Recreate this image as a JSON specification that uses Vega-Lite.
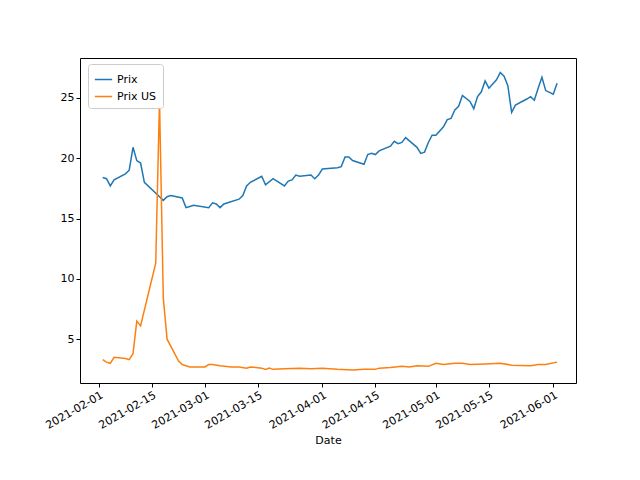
{
"$schema":"https://vega.github.io/schema/vega-lite/v6.json",
"width":496,"height":325,
"autosize":{"type":"none"},
"padding":{"left":80,"top":58,"right":64,"bottom":97},
"config":{"font":"DejaVu Sans","view":{"stroke":"black","strokeWidth":1},
"axis":{"grid":false,"domain":false,"tickColor":"black","labelColor":"black","labelFontSize":11,"tickSize":4,"titleFontWeight":"normal","titleFontSize":11,"titleColor":"black","labelOverlap":false}},
"datasets":{"p":[
{"d":"2021-02-02","v":18.4},{"d":"2021-02-03","v":18.3},{"d":"2021-02-04","v":17.7},{"d":"2021-02-05","v":18.2},{"d":"2021-02-08","v":18.7},{"d":"2021-02-09","v":19.0},{"d":"2021-02-10","v":20.9},{"d":"2021-02-11","v":19.8},{"d":"2021-02-12","v":19.6},{"d":"2021-02-13","v":18.0},{"d":"2021-02-17","v":16.8},{"d":"2021-02-18","v":16.5},{"d":"2021-02-19","v":16.8},{"d":"2021-02-20","v":16.9},{"d":"2021-02-23","v":16.7},{"d":"2021-02-24","v":15.9},{"d":"2021-02-25","v":16.0},{"d":"2021-02-26","v":16.1},{"d":"2021-03-02","v":15.9},{"d":"2021-03-03","v":16.3},{"d":"2021-03-04","v":16.2},{"d":"2021-03-05","v":15.9},{"d":"2021-03-06","v":16.2},{"d":"2021-03-10","v":16.6},{"d":"2021-03-11","v":16.9},{"d":"2021-03-12","v":17.7},{"d":"2021-03-13","v":18.0},{"d":"2021-03-16","v":18.5},{"d":"2021-03-17","v":17.8},{"d":"2021-03-19","v":18.3},{"d":"2021-03-22","v":17.7},{"d":"2021-03-23","v":18.1},{"d":"2021-03-24","v":18.2},{"d":"2021-03-25","v":18.6},{"d":"2021-03-26","v":18.5},{"d":"2021-03-29","v":18.6},{"d":"2021-03-30","v":18.3},{"d":"2021-03-31","v":18.6},{"d":"2021-04-01","v":19.1},{"d":"2021-04-05","v":19.2},{"d":"2021-04-06","v":19.3},{"d":"2021-04-07","v":20.1},{"d":"2021-04-08","v":20.1},{"d":"2021-04-09","v":19.8},{"d":"2021-04-12","v":19.5},{"d":"2021-04-13","v":20.3},{"d":"2021-04-14","v":20.4},{"d":"2021-04-15","v":20.3},{"d":"2021-04-16","v":20.6},{"d":"2021-04-19","v":21.0},{"d":"2021-04-20","v":21.4},{"d":"2021-04-21","v":21.2},{"d":"2021-04-22","v":21.3},{"d":"2021-04-23","v":21.7},{"d":"2021-04-26","v":20.9},{"d":"2021-04-27","v":20.4},{"d":"2021-04-28","v":20.5},{"d":"2021-04-29","v":21.3},{"d":"2021-04-30","v":21.9},{"d":"2021-05-01","v":21.9},{"d":"2021-05-03","v":22.6},{"d":"2021-05-04","v":23.2},{"d":"2021-05-05","v":23.3},{"d":"2021-05-06","v":24.0},{"d":"2021-05-07","v":24.3},{"d":"2021-05-08","v":25.2},{"d":"2021-05-10","v":24.7},{"d":"2021-05-11","v":24.1},{"d":"2021-05-12","v":25.1},{"d":"2021-05-13","v":25.5},{"d":"2021-05-14","v":26.4},{"d":"2021-05-15","v":25.8},{"d":"2021-05-17","v":26.5},{"d":"2021-05-18","v":27.1},{"d":"2021-05-19","v":26.8},{"d":"2021-05-20","v":26.0},{"d":"2021-05-21","v":23.8},{"d":"2021-05-22","v":24.4},{"d":"2021-05-25","v":24.9},{"d":"2021-05-26","v":25.1},{"d":"2021-05-27","v":24.8},{"d":"2021-05-28","v":25.8},{"d":"2021-05-29","v":26.7},{"d":"2021-05-30","v":25.6},{"d":"2021-06-01","v":25.3},{"d":"2021-06-02","v":26.2}],
"u":[
{"d":"2021-02-02","v":3.3},{"d":"2021-02-03","v":3.1},{"d":"2021-02-04","v":3.0},{"d":"2021-02-05","v":3.5},{"d":"2021-02-08","v":3.4},{"d":"2021-02-09","v":3.3},{"d":"2021-02-10","v":3.8},{"d":"2021-02-11","v":6.5},{"d":"2021-02-12","v":6.1},{"d":"2021-02-16","v":11.3},{"d":"2021-02-17","v":24.8},{"d":"2021-02-18","v":8.4},{"d":"2021-02-19","v":5.0},{"d":"2021-02-22","v":3.2},{"d":"2021-02-23","v":2.9},{"d":"2021-02-24","v":2.8},{"d":"2021-02-25","v":2.7},{"d":"2021-03-01","v":2.7},{"d":"2021-03-02","v":2.9},{"d":"2021-03-03","v":2.9},{"d":"2021-03-05","v":2.8},{"d":"2021-03-08","v":2.7},{"d":"2021-03-10","v":2.7},{"d":"2021-03-12","v":2.6},{"d":"2021-03-13","v":2.7},{"d":"2021-03-16","v":2.6},{"d":"2021-03-17","v":2.5},{"d":"2021-03-18","v":2.6},{"d":"2021-03-19","v":2.5},{"d":"2021-03-22","v":2.55},{"d":"2021-03-26","v":2.6},{"d":"2021-03-29","v":2.55},{"d":"2021-04-01","v":2.6},{"d":"2021-04-05","v":2.5},{"d":"2021-04-09","v":2.45},{"d":"2021-04-12","v":2.5},{"d":"2021-04-15","v":2.5},{"d":"2021-04-16","v":2.6},{"d":"2021-04-19","v":2.65},{"d":"2021-04-22","v":2.75},{"d":"2021-04-24","v":2.7},{"d":"2021-04-26","v":2.8},{"d":"2021-04-29","v":2.75},{"d":"2021-05-01","v":3.0},{"d":"2021-05-03","v":2.9},{"d":"2021-05-06","v":3.0},{"d":"2021-05-08","v":3.0},{"d":"2021-05-10","v":2.9},{"d":"2021-05-14","v":2.95},{"d":"2021-05-18","v":3.0},{"d":"2021-05-21","v":2.85},{"d":"2021-05-26","v":2.8},{"d":"2021-05-28","v":2.9},{"d":"2021-05-30","v":2.9},{"d":"2021-06-02","v":3.1}]},
"layer":[
{"data":{"name":"p"},"transform":[{"calculate":"'Prix'","as":"s"}],
"mark":{"type":"line","strokeWidth":1.5},
"encoding":{"x":{"field":"d","type":"temporal","scale":{"domain":["2021-01-27","2021-06-07"]},"title":"Date",
"axis":{"values":["2021-02-01","2021-02-15","2021-03-01","2021-03-15","2021-04-01","2021-04-15","2021-05-01","2021-05-15","2021-06-01"],"format":"%Y-%m-%d","labelAngle":-30,"labelAlign":"right","labelBaseline":"top"}},
"y":{"field":"v","type":"quantitative","scale":{"domain":[1.37,28.3],"nice":false,"zero":false},"title":null,"axis":{"values":[5,10,15,20,25]}},
"color":{"field":"s","type":"nominal","scale":{"domain":["Prix","Prix US"],"range":["#1f77b4","#ff7f0e"]},
"legend":{"title":null,"orient":"none","legendX":8,"legendY":6,"strokeColor":"#cccccc","fillColor":"white","padding":6,"cornerRadius":3,"symbolType":"stroke","symbolStrokeWidth":1.5,"labelFontSize":11,"symbolSize":300}}}},
{"data":{"name":"u"},"transform":[{"calculate":"'Prix US'","as":"s"}],
"mark":{"type":"line","strokeWidth":1.5},
"encoding":{"x":{"field":"d","type":"temporal"},"y":{"field":"v","type":"quantitative"},"color":{"field":"s","type":"nominal"}}}
]}
